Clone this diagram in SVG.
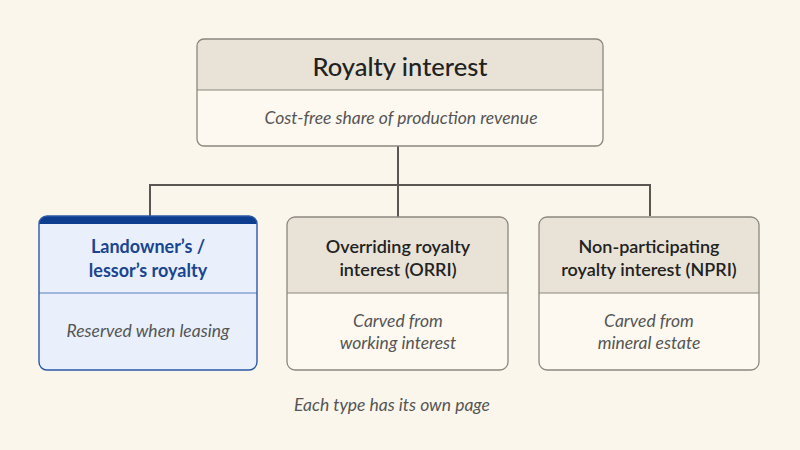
<svg xmlns="http://www.w3.org/2000/svg" width="800" height="450" viewBox="0 0 800 450">
<defs>
<style>
.bg{fill:#fbf6ec}
.hdr{fill:#e8e3d6}
.body{fill:#fdf9f1}
.frame{fill:none;stroke:#8c8880;stroke-width:1.3}
.div{stroke:#8c8880;stroke-width:1.2}
.conn{fill:none;stroke:#5a5752;stroke-width:2}
.t{font-family:Lato,"Open Sans","Liberation Sans",sans-serif;text-anchor:middle}
.big{font-size:25.5px;fill:#222;font-weight:500}
.nt{font-size:18px;fill:#222;font-weight:600}
.it{font-size:17.5px;fill:#555;font-style:italic}
.blue{fill:#1a4590;font-weight:700}
</style>
<clipPath id="cl"><rect x="39" y="216" width="218" height="154" rx="8"/></clipPath>
</defs>
<rect class="bg" width="800" height="450"/>
<g id="connectors">
<path class="conn" d="M398 146V185M150 216V185H650V216M398 185V217"/>
</g>
<g id="root">
<rect class="body" x="197" y="39" width="406" height="107" rx="7"/>
<path class="hdr" d="M204 39H596A7 7 0 0 1 603 46V90H197V46A7 7 0 0 1 204 39Z"/>
<line class="div" x1="197" y1="90" x2="603" y2="90"/>
<rect class="frame" x="197" y="39" width="406" height="107" rx="7"/>
<text class="t big" x="400" y="76">Royalty interest</text>
<text class="t it" x="401" y="124">Cost-free share of production revenue</text>
</g>
<g id="landowner">
<rect x="39" y="216" width="218" height="154" rx="8" fill="#e9f0fb"/>
<rect x="39" y="216" width="218" height="8" fill="#0d3d8e" clip-path="url(#cl)"/>
<line x1="39" y1="293" x2="257" y2="293" stroke="#5a7cc0" stroke-width="1.2"/>
<rect x="39" y="216" width="218" height="154" rx="8" fill="none" stroke="#2d58a8" stroke-width="1.4"/>
<text class="t nt blue" x="148" y="253">Landowner’s /</text>
<text class="t nt blue" x="148" y="277">lessor’s royalty</text>
<text class="t it" x="148" y="337">Reserved when leasing</text>
</g>
<g id="orri">
<rect class="body" x="287" y="217" width="221" height="153" rx="8"/>
<path class="hdr" d="M295 217H500A8 8 0 0 1 508 225V293H287V225A8 8 0 0 1 295 217Z"/>
<line class="div" x1="287" y1="293" x2="508" y2="293"/>
<rect class="frame" x="287" y="217" width="221" height="153" rx="8"/>
<text class="t nt" x="398" y="253">Overriding royalty</text>
<text class="t nt" x="398" y="276">interest (ORRI)</text>
<text class="t it" x="398" y="327">Carved from</text>
<text class="t it" x="398" y="349">working interest</text>
</g>
<g id="npri">
<rect class="body" x="539" y="217" width="220" height="153" rx="8"/>
<path class="hdr" d="M547 217H751A8 8 0 0 1 759 225V293H539V225A8 8 0 0 1 547 217Z"/>
<line class="div" x1="539" y1="293" x2="759" y2="293"/>
<rect class="frame" x="539" y="217" width="220" height="153" rx="8"/>
<text class="t nt" x="649" y="253">Non-participating</text>
<text class="t nt" x="649" y="276">royalty interest (NPRI)</text>
<text class="t it" x="649" y="327">Carved from</text>
<text class="t it" x="649" y="349">mineral estate</text>
</g>
<text class="t it" x="392" y="411">Each type has its own page</text>
</svg>
